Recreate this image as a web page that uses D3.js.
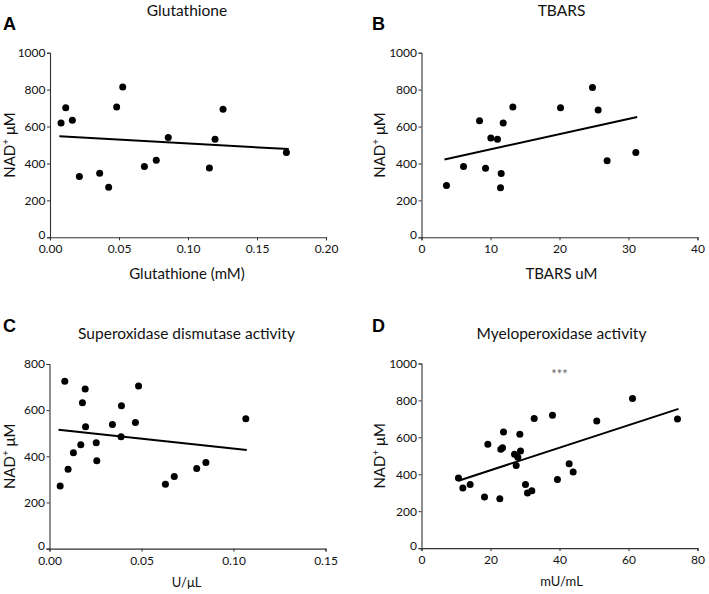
<!DOCTYPE html>
<html><head><meta charset="utf-8">
<script src="https://cdn.jsdelivr.net/npm/d3@7"></script>
<style>
html,body{margin:0;padding:0;background:#fff;}
text{font-family:Lato,"Open Sans",sans-serif;fill:#111;}
</style></head>
<body><svg id="c" width="709" height="594"></svg>
<script>
// ---- Data ----
const glutX = [0.008,0.0114,0.0162,0.0213,0.036,0.0425,0.0483,0.0527,0.0684,0.077,0.0857,0.1155,0.1196,0.1254,0.1713];
const glutY = [619,702,634,330,347,271,706,814,383,417,540,375,531,693,460];
const glutFit = [[0.0068,547],[0.173,478]];

const tbarsX = [3.62,6.09,8.41,9.28,10.05,11.01,11.55,11.45,11.84,13.24,20.15,24.78,25.6,26.9,31.06];
const tbarsY = [280,383,632,374,538,531,345,269,619,706,702,812,690,415,460];
const tbarsFit = [[3.33,421],[31.26,652]];

const sodX = [0.0058,0.0083,0.0101,0.013,0.017,0.0179,0.0194,0.0196,0.0254,0.0257,0.0342,0.0391,0.0389,0.0467,0.0484,0.063,0.0678,0.080,0.085,0.1067];
const sodY = [271,725,344,415,450,632,692,528,459,381,538,619,485,547,705,279,313,347,373,563];
const sodFit = [[0.0049,515],[0.1072,427]];

const mpoX = [10.72,11.98,14.1,18.26,19.23,22.7,22.99,23.48,23.77,26.96,27.44,27.92,28.5,28.7,30.14,30.72,31.98,32.66,37.97,39.4,42.8,43.96,50.8,61.16,74.2];
const mpoY = [380,325,344,277,562,268,535,544,629,508,447,492,617,526,344,298,311,702,720,371,457,412,689,810,700];
const mpoFit = [[10.72,365],[74.5,754]];

const panelLetters = ["A","B","C","D"];
const panelTitles = ["Glutathione","TBARS","Superoxidase dismutase activity","Myeloperoxidase activity"];
const xLabels = ["Glutathione (mM)","TBARS uM","U/\u03BCL","mU/mL"];
const xTicksA = [0,0.05,0.10,0.15,0.20];
const xTicksB = [0,10,20,30,40];
const xTicksC = [0,0.05,0.10,0.15];
const xTicksD = [0,20,40,60,80];
const yTicks1000 = [0,200,400,600,800,1000];
const yTicks800 = [0,200,400,600,800];
const annotD = "***";

// ---- Drawing ----
const svg = d3.select("#c");
const panels = [
  {x:glutX,y:glutY,fit:glutFit,xt:xTicksA,yt:yTicks1000,fmt:d3.format(".2f"),left:50,top:52.7},
  {x:tbarsX,y:tbarsY,fit:tbarsFit,xt:xTicksB,yt:yTicks1000,fmt:d3.format("d"),left:421.5,top:52.7},
  {x:sodX,y:sodY,fit:sodFit,xt:xTicksC,yt:yTicks800,fmt:d3.format(".2f"),left:49.5,top:364},
  {x:mpoX,y:mpoY,fit:mpoFit,xt:xTicksD,yt:yTicks1000,fmt:d3.format("d"),left:421.5,top:363.5}
];
const W = 276, H = 184.6;

panels.forEach((p,i)=>{
  const g = svg.append("g").attr("transform",`translate(${p.left},${p.top})`);
  const xs = d3.scaleLinear().domain([p.xt[0],p.xt[p.xt.length-1]]).range([0,W]);
  const ys = d3.scaleLinear().domain([0,p.yt[p.yt.length-1]]).range([H,0]);

  const xa = g.append("g").attr("transform",`translate(0,${H})`)
    .call(d3.axisBottom(xs).tickValues(p.xt).tickFormat(p.fmt).tickSize(3).tickPadding(4.5));
  const ya = g.append("g")
    .call(d3.axisLeft(ys).tickValues(p.yt).tickFormat(d3.format("d")).tickSize(3).tickPadding(1.5));
  [xa,ya].forEach(a=>{
    a.select(".domain").attr("stroke","#333").attr("stroke-width",1.1);
    a.selectAll(".tick line").attr("stroke","#333").attr("stroke-width",1);
    a.selectAll("text").style("font-family","Lato, sans-serif").style("font-size","12px").attr("fill","#111");
  });
  ya.selectAll(".tick text").filter(d=>d===0).attr("dy","0.1em");

  // fit line
  g.append("path").datum(p.fit)
    .attr("d",d3.line().x(d=>xs(d[0])).y(d=>ys(d[1])))
    .attr("stroke","#000").attr("stroke-width",2).attr("fill","none");

  // points
  g.selectAll("circle.pt").data(p.x.map((v,k)=>[v,p.y[k]])).enter()
    .append("circle").attr("class","pt")
    .attr("cx",d=>xs(d[0])).attr("cy",d=>ys(d[1])).attr("r",3.5).attr("fill","#000");

  // y label
  const yl = g.append("text")
    .attr("transform",`translate(${i%2===0?-35:-37},${H/2}) rotate(-90)`)
    .attr("text-anchor","middle").style("font-size","15px");
  yl.append("tspan").text("NAD");
  yl.append("tspan").text("+").attr("dy",-6).style("font-size","10px");
  yl.append("tspan").text(" \u03BCM").attr("dy",6);

  // x label
  g.append("text").attr("x",W/2+(i%2===0?-1:2)).attr("y",i<2?H+42:H+38)
    .attr("text-anchor","middle").style("font-size",i<2?"15px":"13px").text(xLabels[i]);

  // title
  g.append("text").attr("x",W/2+(i%2===0?-1:2)).attr("y",i<2?-37:-25)
    .attr("text-anchor","middle").style("font-size","15.5px").text(panelTitles[i]);

  // letter
  svg.append("text").attr("x",i%2===0?3:372).attr("y",i<2?30:332)
    .style("font-family","'Liberation Sans',Arial,sans-serif").style("font-weight","bold")
    .style("font-size","18px").attr("fill","#000").style("fill","#000").text(panelLetters[i]);

  if(i===3){
    g.append("text").attr("x",xs(40)).attr("y",ys(1000)+15).attr("text-anchor","middle")
      .style("font-size","13px").style("fill","#666").text(annotD);
  }
});
</script></body></html>
